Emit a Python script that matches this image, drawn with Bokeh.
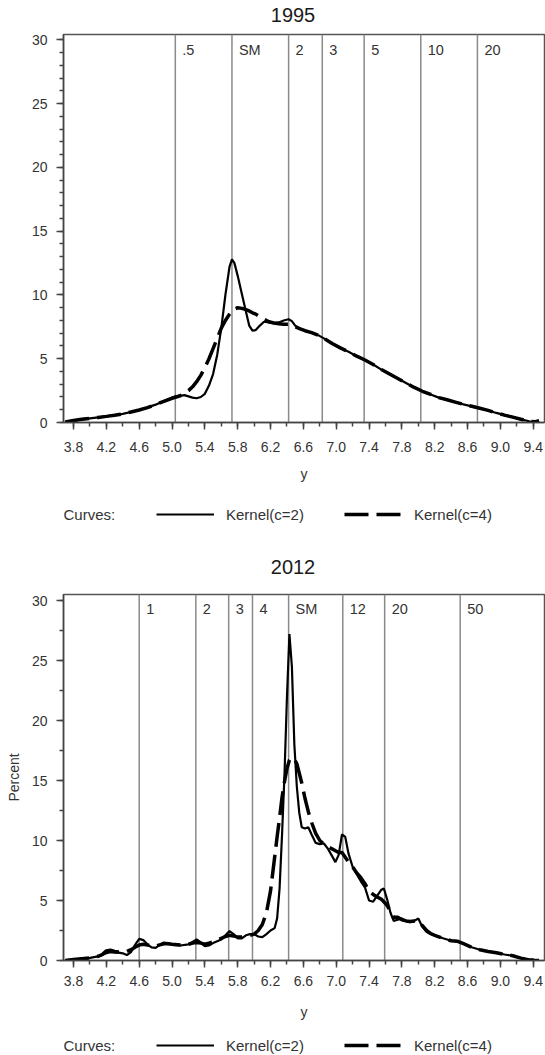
from bokeh.plotting import figure
from bokeh.models import (Range1d, FixedTicker, LabelSet, ColumnDataSource,
                          Legend, LegendItem, PrintfTickFormatter)
from bokeh.core.properties import value
from bokeh.layouts import column
from bokeh.embed import file_html
from bokeh.resources import INLINE

FONT = "Liberation Sans"
W = 545
LEFT = 63    # left border (frame starts here)
RIGHT = 1    # right border

# ---------------- data ----------------
x_major_ticks = [3.8, 4.2, 4.6, 5.0, 5.4, 5.8, 6.2, 6.6, 7.0, 7.4, 7.8, 8.2, 8.6, 9.0, 9.4]
x_minor_ticks = [3.8, 4.0, 4.2, 4.4, 4.6, 4.8, 5.0, 5.2, 5.4, 5.6, 5.8, 6.0, 6.2, 6.4, 6.6,
                 6.8, 7.0, 7.2, 7.4, 7.6, 7.8, 8.0, 8.2, 8.4, 8.6, 8.8, 9.0, 9.2, 9.4]
y_major_ticks = [0, 5, 10, 15, 20, 25, 30]
y_minor_1995 = list(range(0, 31))
y_minor_2012 = [0, 2.5, 5, 7.5, 10, 12.5, 15, 17.5, 20, 22.5, 25, 27.5, 30]
legend_labels = ["Kernel(c=2)", "Kernel(c=4)"]

# 1995
x_1995 = [3.70, 3.80, 3.90, 4.00, 4.10, 4.20, 4.30, 4.40, 4.50, 4.60, 4.70, 4.80, 4.90,
          5.00, 5.05, 5.10, 5.15, 5.20, 5.25, 5.30, 5.35, 5.40, 5.45, 5.50, 5.55, 5.60,
          5.65, 5.70, 5.73, 5.76, 5.80, 5.85, 5.90, 5.94, 5.98, 6.02, 6.07, 6.12, 6.18,
          6.24, 6.30, 6.36, 6.42, 6.46, 6.50, 6.56, 6.62, 6.70, 6.78, 6.85, 6.95, 7.05,
          7.15, 7.25, 7.35, 7.45, 7.55, 7.65, 7.75, 7.85, 7.95, 8.05, 8.15, 8.25, 8.35,
          8.45, 8.55, 8.65, 8.75, 8.85, 8.95, 9.05, 9.15, 9.25, 9.35, 9.42, 9.47]
k2_1995 = [0.05, 0.15, 0.25, 0.33, 0.40, 0.48, 0.57, 0.68, 0.82, 0.98, 1.17, 1.40, 1.68,
           1.95, 2.05, 2.10, 2.15, 2.05, 1.95, 1.90, 2.00, 2.25, 2.90, 3.80, 5.30, 7.40,
           10.0, 12.2, 12.8, 12.5, 11.5, 10.1, 8.70, 7.60, 7.20, 7.25, 7.60, 7.90, 7.85,
           7.80, 7.85, 8.00, 8.10, 7.95, 7.60, 7.35, 7.20, 7.05, 6.85, 6.60, 6.20, 5.85,
           5.55, 5.20, 4.90, 4.55, 4.15, 3.80, 3.45, 3.10, 2.75, 2.45, 2.20, 1.95, 1.78,
           1.60, 1.42, 1.27, 1.12, 0.95, 0.75, 0.58, 0.42, 0.25, 0.10, 0.05, 0.15]
k4_1995 = [0.05, 0.15, 0.25, 0.33, 0.40, 0.48, 0.57, 0.68, 0.82, 0.98, 1.17, 1.40, 1.66,
           1.90, 2.00, 2.10, 2.30, 2.50, 2.80, 3.20, 3.70, 4.30, 5.00, 5.80, 6.60, 7.40,
           8.00, 8.50, 8.75, 8.90, 9.00, 8.95, 8.85, 8.75, 8.60, 8.50, 8.30, 8.10, 7.90,
           7.80, 7.75, 7.70, 7.70, 7.60, 7.50, 7.35, 7.20, 7.05, 6.85, 6.60, 6.20, 5.85,
           5.55, 5.20, 4.90, 4.55, 4.15, 3.80, 3.45, 3.10, 2.75, 2.45, 2.20, 1.95, 1.78,
           1.60, 1.42, 1.27, 1.12, 0.95, 0.75, 0.58, 0.42, 0.25, 0.10, 0.05, 0.15]
ref_x_1995 = [5.04, 5.73, 6.42, 6.83, 7.34, 8.03, 8.72]
ref_lab_1995 = [".5", "SM", "2", "3", "5", "10", "20"]

# 2012
x_2012 = [3.70, 3.80, 3.90, 4.00, 4.10, 4.15, 4.20, 4.25, 4.30, 4.35, 4.40, 4.45, 4.50,
          4.55, 4.60, 4.65, 4.70, 4.75, 4.80, 4.85, 4.90, 4.95, 5.00, 5.10, 5.20, 5.25,
          5.30, 5.35, 5.40, 5.45, 5.50, 5.55, 5.60, 5.65, 5.70, 5.75, 5.80, 5.85, 5.90,
          5.95, 6.00, 6.05, 6.10, 6.15, 6.20, 6.25, 6.28, 6.31, 6.34, 6.37, 6.40, 6.43,
          6.46, 6.49, 6.52, 6.55, 6.58, 6.62, 6.66, 6.70, 6.75, 6.80, 6.85, 6.90, 6.95,
          6.99, 7.03, 7.07, 7.11, 7.15, 7.20, 7.25, 7.30, 7.35, 7.40, 7.45, 7.50, 7.55,
          7.58, 7.62, 7.66, 7.70, 7.75, 7.80, 7.85, 7.90, 7.95, 8.00, 8.05, 8.10, 8.15,
          8.20, 8.30, 8.40, 8.48, 8.55, 8.65, 8.75, 8.85, 8.95, 9.05, 9.15, 9.25, 9.35,
          9.47]
k2_2012 = [0.00, 0.08, 0.15, 0.22, 0.35, 0.45, 0.60, 0.70, 0.65, 0.65, 0.60, 0.45, 0.70,
           1.30, 1.80, 1.70, 1.35, 1.10, 1.05, 1.30, 1.50, 1.45, 1.30, 1.25, 1.35, 1.55,
           1.75, 1.50, 1.20, 1.25, 1.45, 1.60, 1.75, 2.10, 2.45, 2.20, 1.85, 1.85, 2.10,
           2.20, 2.20, 2.00, 1.95, 2.20, 2.50, 2.70, 3.50, 6.00, 10.5, 15.5, 22.0, 27.2,
           24.5, 18.0, 14.5, 12.3, 11.1, 11.0, 11.1, 10.5, 9.80, 9.70, 9.75, 9.30, 8.70,
           8.20, 8.80, 10.5, 10.3, 8.90, 7.80, 7.20, 6.60, 6.10, 5.00, 4.90, 5.40, 5.90,
           6.00, 5.10, 4.00, 3.30, 3.40, 3.50, 3.30, 3.20, 3.30, 3.50, 2.80, 2.40, 2.20,
           2.10, 1.85, 1.65, 1.60, 1.40, 1.10, 0.90, 0.75, 0.65, 0.50, 0.40, 0.20, 0.05,
           0.05]
k4_2012 = [0.00, 0.08, 0.15, 0.22, 0.35, 0.50, 0.80, 0.85, 0.75, 0.70, 0.70, 0.75, 0.90,
           1.10, 1.30, 1.35, 1.30, 1.25, 1.20, 1.30, 1.40, 1.40, 1.35, 1.30, 1.35, 1.45,
           1.50, 1.45, 1.35, 1.45, 1.55, 1.70, 1.85, 2.00, 2.10, 2.05, 1.95, 1.95, 2.05,
           2.10, 2.20, 2.50, 3.00, 4.00, 5.80, 8.60, 10.3, 11.9, 13.6, 14.9, 16.0, 16.7,
           16.9, 16.8, 16.4, 15.6, 14.8, 13.5, 12.4, 11.5, 10.6, 10.0, 9.70, 9.50, 9.30,
           9.15, 9.00, 9.00, 8.60, 8.20, 7.80, 7.30, 6.90, 6.40, 5.80, 5.50, 5.30, 5.10,
           4.90, 4.60, 4.10, 3.60, 3.60, 3.40, 3.30, 3.25, 3.30, 3.30, 2.90, 2.50, 2.25,
           2.10, 1.85, 1.65, 1.60, 1.40, 1.10, 0.90, 0.75, 0.65, 0.50, 0.40, 0.20, 0.05,
           0.05]
ref_x_2012 = [4.60, 5.29, 5.69, 5.98, 6.42, 7.08, 7.59, 8.51]
ref_lab_2012 = ["1", "2", "3", "4", "SM", "12", "20", "50"]

SOLID = dict(line_color="black", line_width=2.2)
DASHED = dict(line_color="black", line_width=3.5, line_dash="24 8")


def strip(height):
    # helper strip whose x range is expressed in page pixels
    s = figure(width=W, height=height, x_range=Range1d(LEFT, W - RIGHT),
               y_range=Range1d(0, height), x_axis_type=None, y_axis_type=None,
               min_border_left=LEFT, min_border_right=RIGHT,
               min_border_top=0, min_border_bottom=0,
               output_backend="svg", toolbar_location=None, title=None)
    s.grid.visible = False
    s.outline_line_color = None
    s.background_fill_color = "white"
    s.border_fill_color = "white"
    return s


def title_strip(text, height, cx, cy):
    s = strip(height)
    s.text(x=[cx], y=[cy], text=[text], text_align="center", text_baseline="middle",
           text_font=value(FONT), text_font_size="20px", text_color="#1a1a1a")
    return s


def legend_strip(height, cy, item_h):
    s = strip(height)
    s.text(x=[LEFT], y=[cy], text=["Curves:"], text_align="left", text_baseline="middle",
           text_font=value(FONT), text_font_size="15px", text_color="#333333")
    # sample renderers for the legend keys (kept outside the visible strip)
    off = ColumnDataSource(dict(x=[-50, -40], y=[-50, -50]))
    r2 = s.line("x", "y", source=off, **SOLID)
    r4 = s.line("x", "y", source=off, **DASHED)
    legend = Legend(items=[LegendItem(label=legend_labels[0], renderers=[r2]),
                           LegendItem(label=legend_labels[1], renderers=[r4])],
                    location=(156 - LEFT, cy - item_h / 2), orientation="horizontal",
                    glyph_width=58, glyph_height=item_h, label_height=item_h,
                    label_standoff=12, spacing=40, padding=0, margin=0,
                    border_line_alpha=0, background_fill_alpha=0,
                    label_text_font=FONT, label_text_font_size="15px",
                    label_text_color="#333333")
    s.add_layout(legend)
    return s


def make_panel(xs, y_c2, y_c4, ref_x, ref_lab, y_max, y_minor, frame_h,
               border_bottom, y_label, tag_dy, tick_standoff, label_standoff):
    p = figure(frame_width=W - LEFT - RIGHT, frame_height=frame_h,
               min_border_left=LEFT, min_border_right=RIGHT,
               min_border_top=10, min_border_bottom=border_bottom,
               x_range=Range1d(3.678, 9.537), y_range=Range1d(0, y_max),
               output_backend="svg", toolbar_location=None, title=None)
    p.xgrid.visible = False
    p.ygrid.visible = False
    p.outline_line_color = "#555555"
    p.outline_line_width = 1.5
    p.background_fill_color = "white"
    p.border_fill_color = "white"

    p.xaxis.ticker = FixedTicker(ticks=x_major_ticks, minor_ticks=x_minor_ticks)
    p.xaxis.formatter = PrintfTickFormatter(format="%.1f")
    p.yaxis.ticker = FixedTicker(ticks=y_major_ticks, minor_ticks=y_minor)
    p.xaxis.axis_label = "y"
    if y_label:
        p.yaxis.axis_label = y_label
    for ax in (p.xaxis[0], p.yaxis[0]):
        ax.axis_line_color = "#444444"
        ax.axis_line_width = 1.5
        ax.major_tick_line_color = "#444444"
        ax.major_tick_line_width = 1.5
        ax.minor_tick_line_color = "#444444"
        ax.minor_tick_line_width = 1.5
        ax.major_tick_in = 0
        ax.minor_tick_in = 0
        ax.major_tick_out = 7
        ax.minor_tick_out = 4
        ax.major_label_text_font = FONT
        ax.major_label_text_font_size = "14px"
        ax.major_label_text_color = "#333333"
        ax.axis_label_text_font = FONT
        ax.axis_label_text_font_size = "14px"
        ax.axis_label_text_font_style = "normal"
        ax.axis_label_text_color = "#333333"
    p.xaxis.major_label_standoff = tick_standoff
    p.xaxis.axis_label_standoff = label_standoff
    p.yaxis.major_label_standoff = 9
    p.yaxis.axis_label_standoff = 7

    n = len(ref_x)
    vsrc = ColumnDataSource(dict(x=ref_x, y0=[0] * n, y1=[y_max] * n, lab=ref_lab))
    p.segment("x", "y0", "x", "y1", source=vsrc, line_color="#8a8a8a", line_width=1.5)
    p.add_layout(LabelSet(x="x", y=tag_dy, y_units="screen", text="lab", source=vsrc,
                          x_offset=7, text_baseline="middle", text_align="left",
                          text_font=value(FONT), text_font_size="14.5px",
                          text_color="#333333"))

    src = ColumnDataSource(dict(x=xs, c2=y_c2, c4=y_c4))
    p.line("x", "c4", source=src, **DASHED)
    p.line("x", "c2", source=src, **SOLID)
    return p


t1 = title_strip("1995", 24, 292.5, 10)
p1 = make_panel(x_1995, k2_1995, k4_1995, ref_x_1995, ref_lab_1995, 30.43,
                y_minor_1995, 388, 62, None, 373, 12, 11)
l1 = legend_strip(56, 26, 20)
t2 = title_strip("2012", 44, 292.5, 17.3)
p2 = make_panel(x_2012, k2_2012, k4_2012, ref_x_2012, ref_lab_2012, 30.5,
                y_minor_2012, 366, 62, "Percent", 352, 8, 15)
l2 = legend_strip(33, 10, 20)

layout = column(t1, p1, l1, t2, p2, l2, spacing=0)
open("out.html", "w").write(file_html(layout, INLINE))
